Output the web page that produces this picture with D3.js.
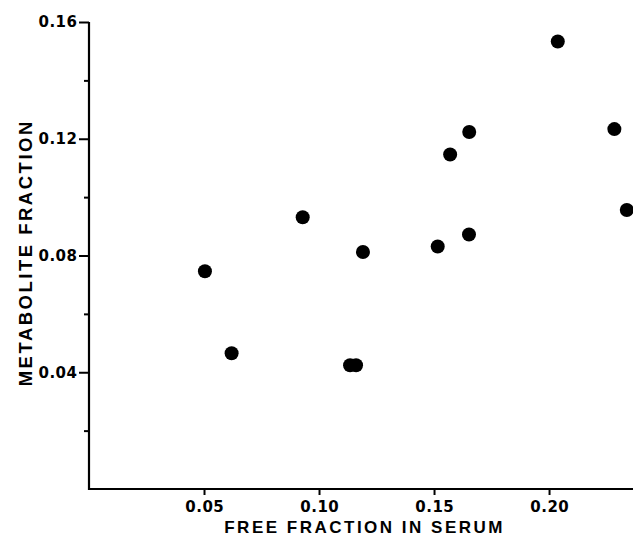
<!DOCTYPE html>
<html>
<head>
<meta charset="utf-8">
<script src="https://cdn.jsdelivr.net/npm/d3@7"></script>
<style>
  html, body { margin: 0; padding: 0; background: #fff; }
  svg { display: block; }
  .axis text { font-family: 'DejaVu Sans', sans-serif; font-weight: bold; font-size: 15px; letter-spacing: 0.5px; fill: #000; }
</style>
</head>
<body>
<div id="chart"></div>
<script>
// Data
const freeFraction =       [0.0504, 0.0620, 0.0929, 0.1135, 0.1161, 0.1191, 0.1516, 0.1652, 0.1570, 0.1653, 0.2038, 0.2284, 0.2338];
const metaboliteFraction = [0.0746, 0.0465, 0.0931, 0.0424, 0.0424, 0.0812, 0.0831, 0.0872, 0.1146, 0.1223, 0.1533, 0.1233, 0.0956];
const xTicks = [0.05, 0.10, 0.15, 0.20];
const yMajorTicks = [0.04, 0.08, 0.12, 0.16];
const yMinorTicks = [0.02, 0.06, 0.10, 0.14];
const xTitle = "FREE FRACTION IN SERUM";
const yTitle = "METABOLITE FRACTION";

const W = 633, H = 536;
const svg = d3.select("#chart").append("svg").attr("width", W).attr("height", H);

const x = d3.scaleLinear().domain([0, 0.2365]).range([89, 633]);
const y = d3.scaleLinear().domain([0, 0.16]).range([489, 22]);

const font = "'Liberation Sans', Arial, sans-serif";
const tickLS = 0.5;

function styleAxis(g) {
  g.attr("class", "axis")
   .attr("font-size", 15)
   .attr("font-family", "'DejaVu Sans', sans-serif")
   .attr("font-weight", "bold");
}

// Y axis (major ticks with labels)
const yMajor = svg.append("g").attr("transform", `translate(${x(0)},0)`)
  .call(d3.axisLeft(y).tickValues(yMajorTicks).tickSize(10).tickPadding(2).tickFormat(d3.format(".2f")))
  .call(styleAxis);
yMajor.selectAll(".tick text").attr("dx", tickLS);
// Y axis minor ticks
const yMinor = svg.append("g").attr("transform", `translate(${x(0)},0)`)
  .call(d3.axisLeft(y).tickValues(yMinorTicks).tickSize(5).tickFormat(""));
yMinor.select(".domain").remove();

// X axis
const xAxis = svg.append("g").attr("transform", `translate(0,${y(0)})`)
  .call(d3.axisBottom(x).tickValues(xTicks).tickSize(6).tickPadding(6.5).tickFormat(d3.format(".2f")))
  .call(styleAxis);
xAxis.selectAll(".tick text").attr("dx", tickLS / 2);

// Style axes
svg.selectAll(".domain").attr("stroke", "#000").attr("stroke-width", 2.2);
svg.selectAll(".tick line").attr("stroke", "#000").attr("stroke-width", 2);

xAxis.select(".domain").attr("d", `M${x(0) - 1},0H${W}`);
yMajor.select(".domain").attr("d", `M0,${y(0.16)}V${y(0) + 1}`);

// Points
svg.append("g").selectAll("circle")
  .data(freeFraction.map((d, i) => [d, metaboliteFraction[i]]))
  .join("circle")
  .attr("cx", d => x(d[0]))
  .attr("cy", d => y(d[1]))
  .attr("r", 7)
  .attr("fill", "#000");

// Axis titles
svg.append("text")
  .attr("x", 363.5 + 1.1).attr("y", 533)
  .attr("text-anchor", "middle")
  .style("font-family", font)
  .style("font-weight", "bold")
  .style("font-size", "17px")
  .style("letter-spacing", "2.5px")
  .attr("fill", "#000")
  .text(xTitle);

svg.append("text")
  .attr("transform", "translate(32,254) rotate(-90)")
  .attr("dx", 1.25)
  .attr("text-anchor", "middle")
  .style("font-family", font)
  .style("font-weight", "bold")
  .style("font-size", "18.5px")
  .style("letter-spacing", "2.5px")
  .attr("fill", "#000")
  .text(yTitle);
</script>
</body>
</html>
